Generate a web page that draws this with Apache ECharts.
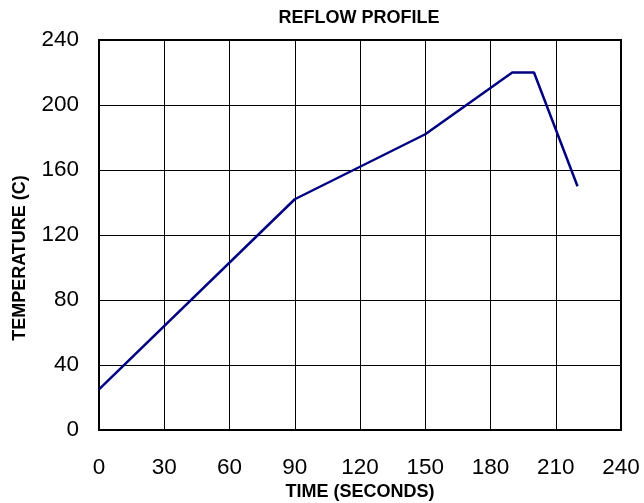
<!DOCTYPE html>
<html><head><meta charset="utf-8">
<script src="https://cdn.jsdelivr.net/npm/echarts@6/dist/echarts.min.js"></script>
<style>html,body{margin:0;padding:0;background:#fff}#c{width:644px;height:503px}</style>
</head><body><div id="c"></div>
<script>
const timeSec = [0, 90, 150, 190, 200, 220];
const tempC = [25, 142, 182, 220, 220, 150];
const title = 'REFLOW PROFILE';
const xName = 'TIME (SECONDS)';
const yName = 'TEMPERATURE (C)';

const chart = echarts.init(document.getElementById('c'), null, {renderer: 'canvas'});
const FONT = '"Liberation Sans", Arial, sans-serif';
chart.setOption({
  animation: false,
  backgroundColor: '#fff',
  grid: {left: 99, right: 23, top: 40, bottom: 73, show: true, borderColor: '#000', borderWidth: 2, backgroundColor: 'transparent'},
  xAxis: {
    type: 'value', min: 0, max: 240, interval: 30,
    axisLine: {show: true, lineStyle: {color: '#000', width: 2}},
    axisTick: {show: false},
    splitLine: {show: true, lineStyle: {color: '#000', width: 1}},
    axisLabel: {color: '#000', fontFamily: FONT, fontSize: 22.5, margin: 26}
  },
  yAxis: {
    type: 'value', min: 0, max: 240, interval: 40,
    axisLine: {show: true, lineStyle: {color: '#000', width: 2}},
    axisTick: {show: false},
    splitLine: {show: true, lineStyle: {color: '#000', width: 1}},
    axisLabel: {color: '#000', fontFamily: FONT, fontSize: 22.5, margin: 20}
  },
  graphic: [
    {type: 'text', x: 359, y: 18, style: {text: title, font: 'bold 18px ' + FONT, fill: '#000', textAlign: 'center', textVerticalAlign: 'middle'}},
    {type: 'text', x: 360, y: 492, style: {text: xName, font: 'bold 18px ' + FONT, fill: '#000', textAlign: 'center', textVerticalAlign: 'middle'}},
    {type: 'text', x: 20, y: 258, rotation: Math.PI / 2, style: {text: yName, font: 'bold 18px ' + FONT, fill: '#000', textAlign: 'center', textVerticalAlign: 'middle'}}
  ],
  series: [{
    type: 'line',
    data: timeSec.map((t, i) => [t, tempC[i]]),
    symbol: 'none',
    lineStyle: {color: '#000080', width: 2.5},
    z: 5
  }]
});
</script></body></html>
